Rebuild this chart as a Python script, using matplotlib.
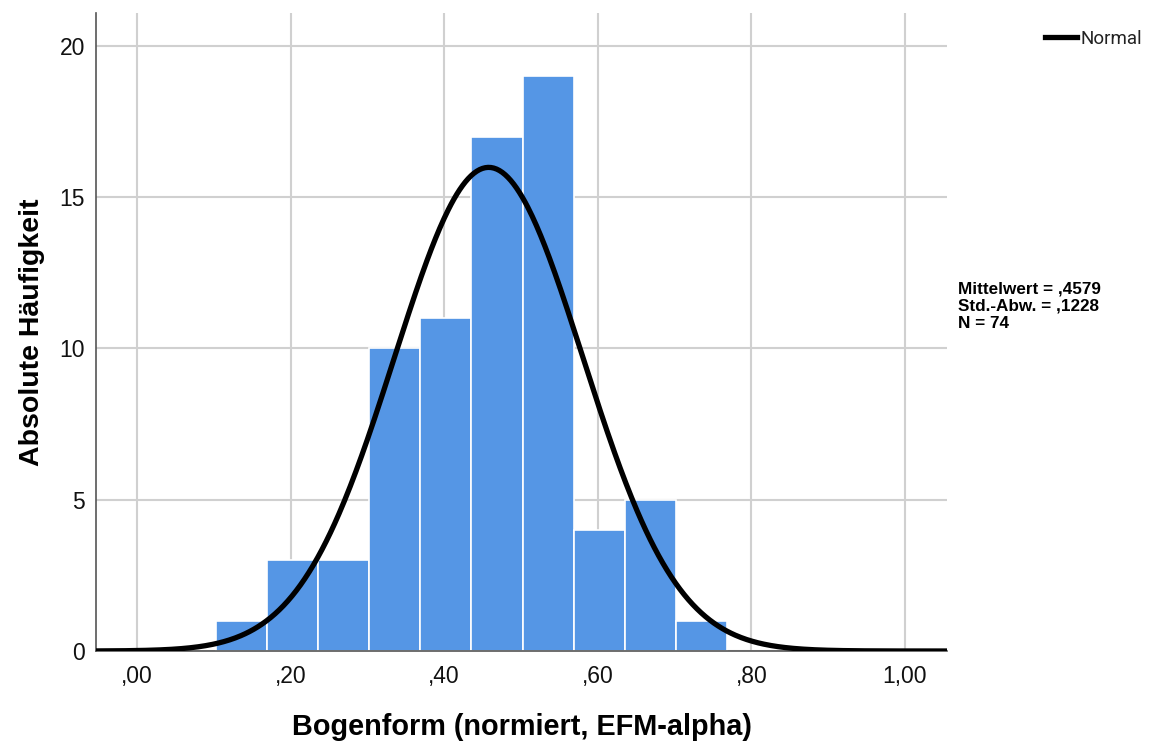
import numpy as np
import matplotlib
matplotlib.use("Agg")
import matplotlib.pyplot as plt

# Data
bin_start = 0.103
bin_width = 0.0665
counts = [1, 3, 3, 10, 11, 17, 19, 4, 5, 1]
mean_val = 0.4579
sd_val = 0.1228
n_val = 74
x_ticks = [0.0, 0.2, 0.4, 0.6, 0.8, 1.0]
x_ticklabels = [",00", ",20", ",40", ",60", ",80", "1,00"]
y_ticks = [0, 5, 10, 15, 20]

plt.rcParams['font.family'] = ['Liberation Sans', 'DejaVu Sans']

fig = plt.figure(figsize=(11.52, 7.41), dpi=100)
ax = fig.add_axes([96/1152, 90/741, (947-96)/1152, (651-13)/741])

edges = bin_start + bin_width * np.arange(len(counts) + 1)
ax.bar(edges[:-1], counts, width=bin_width, align='edge', color='#5596E5',
       edgecolor='white', linewidth=1.2, zorder=2)

xlim = (-0.0534, 1.0547)
xs = np.linspace(xlim[0], xlim[1], 600)
ys = n_val * bin_width / (sd_val * np.sqrt(2 * np.pi)) * np.exp(-0.5 * ((xs - mean_val) / sd_val) ** 2)
ax.plot(xs, ys, color='black', linewidth=3.8, zorder=3, label='Normal', solid_capstyle='butt')

ax.set_xlim(*xlim)
ax.set_ylim(0, 21.09)
ax.set_xticks(x_ticks)
ax.set_xticklabels(x_ticklabels)
ax.set_yticks(y_ticks)
ax.grid(True, color='#d0d0d0', linewidth=1.5, zorder=0)
ax.set_axisbelow(True)
ax.tick_params(axis='x', length=0, labelsize=16.5, pad=10, labelcolor='#111111')
ax.tick_params(axis='y', length=0, labelsize=16.5, pad=8, labelcolor='#111111')
for s in ['top', 'right']:
    ax.spines[s].set_visible(False)
for s in ['left', 'bottom']:
    ax.spines[s].set_color('#555555')
    ax.spines[s].set_linewidth(1.2)

ax.set_xlabel('Bogenform (normiert, EFM-alpha)', fontsize=20.8, fontweight='bold', labelpad=18)
ax.set_ylabel('Absolute Häufigkeit', fontsize=20.5, fontweight='bold', labelpad=10)

# legend
fig.lines.append(plt.Line2D([1045/1152, 1077/1152], [1 - 37/741, 1 - 37/741],
                            transform=fig.transFigure, color='black', linewidth=3.8))
fig.text(1081/1152, 1 - 39/741, 'Normal', fontsize=13.5, va='center', ha='left',
         color='#222222', family=['Roboto', 'DejaVu Sans'])

fig.text(958/1152, 1 - 306/741,
         'Mittelwert = ,4579\nStd.-Abw. = ,1228\nN = 74',
         fontsize=12.3, fontweight='bold', va='center', ha='left', linespacing=1.17)

fig.savefig('out.png', dpi=100)
